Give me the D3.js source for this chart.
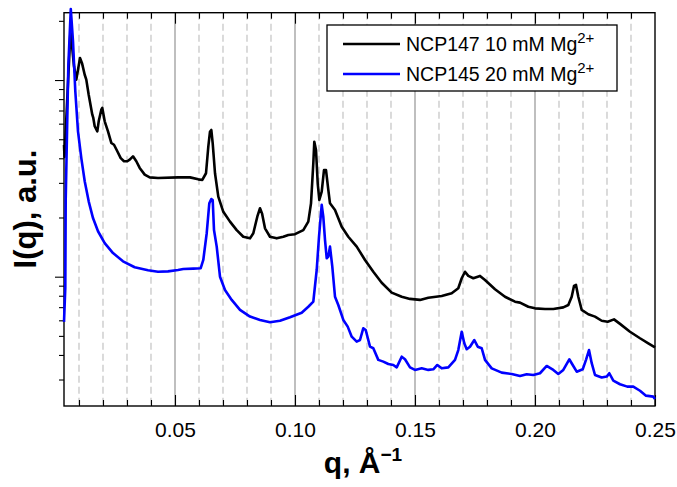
<!DOCTYPE html>
<html><head><meta charset="utf-8">
<script src="https://cdn.jsdelivr.net/npm/d3@7"></script>
<style>body{margin:0;background:#fff} svg{display:block} text{font-family:"Liberation Sans",Arial,Helvetica,sans-serif}</style>
</head><body><svg id="c" width="677" height="487"></svg>
<script>
// q (1/Å) and log10 of I(q) (a.u.)
const q147 = [0.00375,0.00396,0.00646,0.00792,0.00888,0.01042,0.01125,0.01238,0.01304,0.01404,0.01554,0.01596,0.01654,0.01763,0.01821,0.01929,0.01971,0.02071,0.02208,0.02346,0.02458,0.02596,0.02738,0.02875,0.03013,0.03113,0.0325,0.03388,0.03529,0.03738,0.03946,0.04292,0.05125,0.05625,0.05971,0.06138,0.06292,0.06388,0.06458,0.06513,0.06571,0.06667,0.06804,0.07013,0.07292,0.07571,0.07846,0.08125,0.08263,0.08429,0.08542,0.08625,0.0875,0.08958,0.09238,0.09513,0.09721,0.1,0.10346,0.10554,0.10667,0.10763,0.10804,0.10875,0.10946,0.11013,0.11113,0.11208,0.11292,0.11388,0.11458,0.11667,0.11946,0.12221,0.12571,0.12917,0.13263,0.13613,0.14029,0.14446,0.14792,0.15208,0.15554,0.16113,0.16529,0.16804,0.16946,0.17083,0.17221,0.17429,0.17708,0.17917,0.18333,0.1875,0.19167,0.19375,0.19721,0.2,0.20417,0.20763,0.21179,0.21388,0.21529,0.21625,0.21708,0.21804,0.21946,0.22221,0.225,0.22779,0.23029,0.23292,0.23542,0.23958,0.24375,0.24721,0.25];
const lgI147 = [0.670,0.609,1.254,1.070,1.002,1.112,1.086,1.027,1.002,0.925,0.824,0.807,0.765,0.739,0.790,0.849,0.858,0.790,0.739,0.680,0.671,0.638,0.603,0.587,0.587,0.595,0.612,0.587,0.553,0.519,0.505,0.502,0.505,0.505,0.495,0.492,0.526,0.661,0.737,0.746,0.678,0.526,0.407,0.330,0.280,0.237,0.203,0.195,0.221,0.305,0.348,0.322,0.246,0.203,0.195,0.203,0.212,0.216,0.237,0.280,0.373,0.577,0.686,0.644,0.475,0.390,0.432,0.542,0.542,0.441,0.373,0.339,0.254,0.203,0.153,0.085,0.025,-0.031,-0.081,-0.102,-0.113,-0.118,-0.107,-0.098,-0.084,-0.059,-0.008,0.025,0.004,-0.008,0.004,-0.017,-0.064,-0.102,-0.127,-0.132,-0.153,-0.161,-0.164,-0.164,-0.156,-0.144,-0.102,-0.047,-0.042,-0.102,-0.169,-0.191,-0.203,-0.224,-0.229,-0.217,-0.240,-0.280,-0.313,-0.339,-0.360];

const q145 = [0.00375,0.00429,0.00446,0.00554,0.00658,0.0075,0.00846,0.00958,0.01096,0.01238,0.01404,0.01583,0.01792,0.02071,0.02417,0.02833,0.03321,0.03875,0.04292,0.04708,0.05125,0.05346,0.05763,0.06071,0.06179,0.06321,0.06429,0.06513,0.06571,0.06625,0.06738,0.06875,0.07083,0.07363,0.07708,0.08125,0.08542,0.08958,0.09375,0.09792,0.10279,0.10554,0.10763,0.10904,0.11,0.11113,0.11179,0.1125,0.11321,0.11388,0.11458,0.11554,0.11667,0.11804,0.12013,0.12196,0.12363,0.12571,0.12708,0.12846,0.12946,0.13125,0.13263,0.13471,0.13679,0.13888,0.14096,0.14238,0.14446,0.14583,0.14792,0.15,0.15279,0.15554,0.15763,0.15929,0.16113,0.16388,0.16667,0.16804,0.16946,0.17054,0.17154,0.17292,0.17471,0.17613,0.17779,0.17917,0.18196,0.18613,0.19029,0.19375,0.19654,0.19929,0.20208,0.20488,0.20763,0.20971,0.21179,0.21429,0.21571,0.21738,0.21988,0.22125,0.2225,0.22363,0.225,0.22779,0.22988,0.23096,0.23263,0.23542,0.23846,0.24096,0.24375,0.24625,0.24929,0.25];
const lgI145 = [-0.230,-0.057,0.390,1.068,1.361,1.197,0.943,0.739,0.603,0.485,0.383,0.298,0.231,0.171,0.120,0.078,0.048,0.033,0.025,0.027,0.034,0.039,0.041,0.043,0.085,0.221,0.373,0.395,0.390,0.237,0.153,0.000,-0.068,-0.118,-0.169,-0.203,-0.220,-0.232,-0.224,-0.206,-0.183,-0.153,-0.127,0.034,0.203,0.365,0.305,0.187,0.094,0.102,0.153,0.051,-0.102,-0.144,-0.220,-0.254,-0.305,-0.330,-0.322,-0.262,-0.271,-0.356,-0.364,-0.423,-0.432,-0.444,-0.449,-0.461,-0.407,-0.420,-0.461,-0.474,-0.466,-0.474,-0.471,-0.449,-0.466,-0.461,-0.423,-0.373,-0.280,-0.339,-0.369,-0.356,-0.322,-0.356,-0.364,-0.423,-0.466,-0.488,-0.495,-0.505,-0.496,-0.500,-0.491,-0.454,-0.474,-0.495,-0.474,-0.420,-0.449,-0.483,-0.471,-0.423,-0.373,-0.440,-0.500,-0.513,-0.508,-0.491,-0.529,-0.547,-0.559,-0.559,-0.580,-0.605,-0.610,-0.622];

const xTickValues = [0.05, 0.10, 0.15, 0.20, 0.25];
const xTickLabels = ["0.05", "0.10", "0.15", "0.20", "0.25"];
const yMajorTicks = [1, 10];
const yMinorTicks = [0.3,0.4,0.5,0.6,0.7,0.8,0.9,2,3,4,5,6,7,8,9,20];
const seriesNames = ["NCP147 10 mM Mg", "NCP145 20 mM Mg"];
const seriesSup = ["2+", "2+"];
const seriesColors = ["#000000", "#0000ff"];

const svg = d3.select("#c");
svg.append("rect").attr("width",677).attr("height",487).attr("fill","#fff");
const L = 64, R = 655, T = 12.7, B = 406;
const x = d3.scaleLinear().domain([0.00375, 0.25]).range([L, R]);
const y = d3.scaleLog().domain([0.22, 22]).range([B, T]);

// grid
const gridQ = d3.range(1, 25).map(i => i / 100);
const isMajor = d => Math.round(d * 100) % 5 === 0;
svg.append("g").selectAll("line").data(gridQ).join("line")
  .attr("x1", d => x(d)).attr("x2", d => x(d)).attr("y1", T).attr("y2", B)
  .attr("stroke", d => isMajor(d) ? "#8a8a8a" : "#bdbdbd")
  .attr("stroke-dasharray", d => isMajor(d) ? null : "7,4")
  .attr("stroke-width", 1.1);

// axes ticks
function styleAxis(g){ g.select(".domain").remove(); g.selectAll(".tick line").attr("stroke","#000").attr("stroke-width",1.1); }
svg.append("g").attr("transform",`translate(0,${B})`)
  .call(d3.axisBottom(x).tickValues(gridQ.filter(d=>!isMajor(d))).tickSize(-6).tickFormat(""))
  .call(styleAxis);
const xa = svg.append("g").attr("transform",`translate(0,${B})`)
  .call(d3.axisBottom(x).tickValues(xTickValues).tickSize(-11).tickFormat((d,i)=>xTickLabels[i]))
  .call(styleAxis);
xa.selectAll("text").attr("y", 16).attr("dy","0.71em").attr("font-size", 21).attr("fill","#000")
  .style("font-family", '"Liberation Sans",Arial,sans-serif');
svg.append("g").attr("transform",`translate(0,${T})`)
  .call(d3.axisTop(x).tickValues(gridQ.filter(d=>!isMajor(d))).tickSize(-6).tickFormat(""))
  .call(styleAxis);
svg.append("g").attr("transform",`translate(0,${T})`)
  .call(d3.axisTop(x).tickValues(xTickValues.slice(0,4)).tickSize(-11).tickFormat(""))
  .call(styleAxis);
svg.append("g").attr("transform",`translate(${L},0)`)
  .call(d3.axisLeft(y).tickValues(yMinorTicks).tickSize(5).tickFormat(""))
  .call(styleAxis);
svg.append("g").attr("transform",`translate(${L},0)`)
  .call(d3.axisLeft(y).tickValues(yMajorTicks).tickSize(9).tickFormat(""))
  .call(styleAxis);

// frame
svg.append("rect").attr("x",L).attr("y",T).attr("width",R-L).attr("height",B-T)
  .attr("fill","none").attr("stroke","#000").attr("stroke-width",1.4);

// curves
const line = d3.line().x(d => x(d.q)).y(d => y(d.I));
const series = [
  q147.map((q,i)=>({q, I: Math.pow(10, lgI147[i])})),
  q145.map((q,i)=>({q, I: Math.pow(10, lgI145[i])}))
];
series.forEach((s,i)=>{
  svg.append("path").datum(s).attr("d", line).attr("fill","none")
    .attr("stroke", seriesColors[i]).attr("stroke-width", 2.6).attr("stroke-linejoin","round");
});

// legend
const lg = svg.append("g");
lg.append("rect").attr("x",327).attr("y",25).attr("width",290).attr("height",66)
  .attr("fill","#fff").attr("stroke","#000").attr("stroke-width",1.3);
const rowsY = [44, 74];
seriesNames.forEach((n,i)=>{
  lg.append("line").attr("x1",343).attr("x2",400).attr("y1",rowsY[i]).attr("y2",rowsY[i])
    .attr("stroke",seriesColors[i]).attr("stroke-width",2.6);
  const t = lg.append("text").attr("x",406).attr("y",rowsY[i]+7).attr("font-size",19.5).attr("fill","#000");
  t.append("tspan").text(n);
  t.append("tspan").attr("dy",-8).attr("font-size",15).text(seriesSup[i]);
});

// axis titles
const xt = svg.append("text").attr("x",363).attr("y",473).attr("text-anchor","middle")
  .attr("font-size",30).attr("font-weight","bold");
xt.append("tspan").text("q, Å");
xt.append("tspan").attr("dy",-12).attr("font-size",19).text("−1");
svg.append("text").attr("transform","translate(36,209) rotate(-90)").attr("text-anchor","middle")
  .attr("font-size",31).attr("font-weight","bold").text("I(q), a.u.");
</script></body></html>
